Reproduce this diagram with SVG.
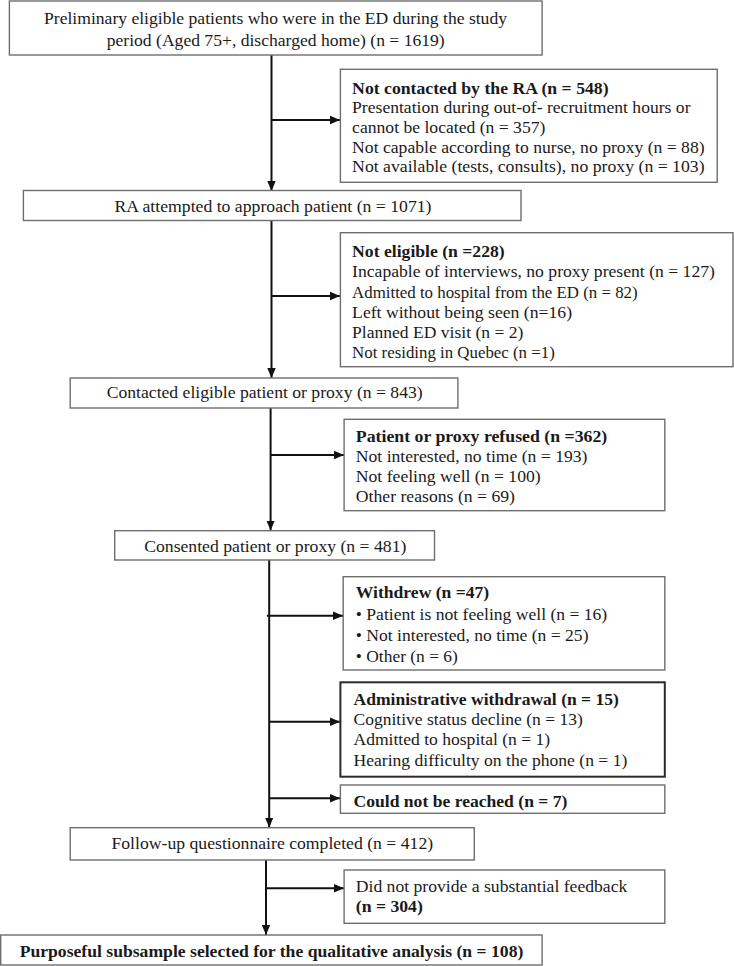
<svg xmlns="http://www.w3.org/2000/svg" width="734" height="966" viewBox="0 0 734 966">
<defs>
<marker id="ah" markerUnits="userSpaceOnUse" markerWidth="10" markerHeight="10" viewBox="0 0 10 10" refX="10" refY="5" orient="auto">
<path d="M0,0.8 L10,5 L0,9.2 Z" fill="#111"/>
</marker>
<style>
.box{fill:#fff;stroke:#6e6e6e;stroke-width:1.4}
.dark{fill:#fff;stroke:#2a2a2a;stroke-width:2}
.t{font-family:"Liberation Serif","Times New Roman",serif;font-size:17.5px;fill:#1a1a1a}
.b{font-weight:bold}
.c{text-anchor:middle}
.ln{stroke:#111;stroke-width:2;fill:none}
.ar{stroke:#111;stroke-width:2;fill:none;marker-end:url(#ah)}
</style>
</defs>
<rect width="734" height="966" fill="#fff"/>

<g id="connectors">
<line class="ar" x1="271.5" y1="55" x2="271.5" y2="191"/>
<line class="ar" x1="271.5" y1="120" x2="340" y2="120"/>
<line class="ar" x1="271.5" y1="220.5" x2="271.5" y2="378"/>
<line class="ar" x1="271.5" y1="296" x2="340" y2="296"/>
<line class="ar" x1="270.6" y1="408" x2="270.6" y2="530.5"/>
<line class="ar" x1="270.6" y1="455" x2="344" y2="455"/>
<line class="ar" x1="269.2" y1="560" x2="269.2" y2="827.5"/>
<line class="ar" x1="266.9" y1="615.7" x2="343" y2="615.7"/>
<line class="ar" x1="269.2" y1="721.7" x2="340" y2="721.7"/>
<line class="ar" x1="269.2" y1="798.3" x2="340" y2="798.3"/>
<line class="ar" x1="266" y1="860" x2="266" y2="935"/>
<line class="ar" x1="266" y1="888.3" x2="344" y2="888.3"/>
</g>

<g id="n1">
<rect class="box" x="9.4" y="1" width="532.7" height="54"/>
<text class="t c" x="275.5" y="24" textLength="463" lengthAdjust="spacingAndGlyphs">Preliminary eligible patients who were in the ED during the study</text>
<text class="t c" x="275.7" y="46" textLength="338" lengthAdjust="spacingAndGlyphs">period (Aged 75+, discharged home) (n = 1619)</text>
</g>

<g id="x1">
<rect class="box" x="340.4" y="69.3" width="376.8" height="113"/>
<text class="t b" x="352.1" y="94" textLength="256.5" lengthAdjust="spacingAndGlyphs">Not contacted by the RA (n = 548)</text>
<text class="t" x="352.1" y="113.3" textLength="338.4" lengthAdjust="spacingAndGlyphs">Presentation during out-of- recruitment hours or</text>
<text class="t" x="352.1" y="132.7" textLength="193.3" lengthAdjust="spacingAndGlyphs">cannot be located (n = 357)</text>
<text class="t" x="352.1" y="152.7" textLength="352.5" lengthAdjust="spacingAndGlyphs">Not capable according to nurse, no proxy (n = 88)</text>
<text class="t" x="352.1" y="172.3" textLength="352.5" lengthAdjust="spacingAndGlyphs">Not available (tests, consults), no proxy (n = 103)</text>
</g>

<g id="n2">
<rect class="box" x="23.4" y="190.5" width="497.6" height="30"/>
<text class="t c" x="273" y="211.7" textLength="317" lengthAdjust="spacingAndGlyphs">RA attempted to approach patient (n = 1071)</text>
</g>

<g id="x2">
<rect class="box" x="340.4" y="232.7" width="392.6" height="134"/>
<text class="t b" x="352.1" y="256.7" textLength="152.6" lengthAdjust="spacingAndGlyphs">Not eligible (n =228)</text>
<text class="t" x="352.1" y="277.3" textLength="362.8" lengthAdjust="spacingAndGlyphs">Incapable of interviews, no proxy present (n = 127)</text>
<text class="t" x="352.1" y="298.3" textLength="285.5" lengthAdjust="spacingAndGlyphs">Admitted to hospital from the ED (n = 82)</text>
<text class="t" x="352.1" y="318.3" textLength="220" lengthAdjust="spacingAndGlyphs">Left without being seen (n=16)</text>
<text class="t" x="352.1" y="338.3" textLength="171.3" lengthAdjust="spacingAndGlyphs">Planned ED visit (n = 2)</text>
<text class="t" x="352.1" y="358.3" textLength="202.7" lengthAdjust="spacingAndGlyphs">Not residing in Quebec (n =1)</text>
</g>

<g id="n3">
<rect class="box" x="70.2" y="378" width="387.7" height="30"/>
<text class="t c" x="264.7" y="398.3" textLength="316" lengthAdjust="spacingAndGlyphs">Contacted eligible patient or proxy (n = 843)</text>
</g>

<g id="x3">
<rect class="box" x="344.1" y="419.3" width="320.7" height="91.4"/>
<text class="t b" x="355.8" y="441.7" textLength="251.4" lengthAdjust="spacingAndGlyphs">Patient or proxy refused (n =362)</text>
<text class="t" x="355.8" y="461.7" textLength="231.7" lengthAdjust="spacingAndGlyphs">Not interested, no time (n = 193)</text>
<text class="t" x="355.8" y="481.7" textLength="184.9" lengthAdjust="spacingAndGlyphs">Not feeling well (n = 100)</text>
<text class="t" x="355.8" y="501.7" textLength="159.2" lengthAdjust="spacingAndGlyphs">Other reasons (n = 69)</text>
</g>

<g id="n4">
<rect class="box" x="114.7" y="530.7" width="319.8" height="29.3"/>
<text class="t c" x="275.3" y="551.7" textLength="262.2" lengthAdjust="spacingAndGlyphs">Consented patient or proxy (n = 481)</text>
</g>

<g id="x4">
<rect class="box" x="343.2" y="576.7" width="321.6" height="93.3"/>
<text class="t b" x="355.8" y="598.3" textLength="133.4" lengthAdjust="spacingAndGlyphs">Withdrew (n =47)</text>
<text class="t" x="355.8" y="620" textLength="251.4" lengthAdjust="spacingAndGlyphs">• Patient is not feeling well (n = 16)</text>
<text class="t" x="355.8" y="641" textLength="232.7" lengthAdjust="spacingAndGlyphs">• Not interested, no time (n = 25)</text>
<text class="t" x="355.8" y="662.3" textLength="102.1" lengthAdjust="spacingAndGlyphs">• Other (n = 6)</text>
</g>

<g id="x5">
<rect class="dark" x="340.4" y="682.3" width="324.4" height="94.4"/>
<text class="t b" x="353.5" y="705" textLength="265.4" lengthAdjust="spacingAndGlyphs">Administrative withdrawal (n = 15)</text>
<text class="t" x="353.5" y="725" textLength="229.4" lengthAdjust="spacingAndGlyphs">Cognitive status decline (n = 13)</text>
<text class="t" x="353.5" y="745" textLength="196.6" lengthAdjust="spacingAndGlyphs">Admitted to hospital (n = 1)</text>
<text class="t" x="353.5" y="765.7" textLength="273.8" lengthAdjust="spacingAndGlyphs">Hearing difficulty on the phone (n = 1)</text>
</g>

<g id="x6">
<rect class="box" x="340.4" y="785" width="324.4" height="28.3"/>
<text class="t b" x="353.5" y="806.7" textLength="213.9" lengthAdjust="spacingAndGlyphs">Could not be reached (n = 7)</text>
</g>

<g id="n5">
<rect class="box" x="70.2" y="827.7" width="404.1" height="32.3"/>
<text class="t c" x="272.3" y="849.3" textLength="321.7" lengthAdjust="spacingAndGlyphs">Follow-up questionnaire completed (n = 412)</text>
</g>

<g id="x7">
<rect class="box" x="344.1" y="870" width="320.7" height="53.3"/>
<text class="t" x="355.8" y="891.7" textLength="271.5" lengthAdjust="spacingAndGlyphs">Did not provide a substantial feedback</text>
<text class="t b" x="355.8" y="911.7" textLength="67" lengthAdjust="spacingAndGlyphs">(n = 304)</text>
</g>

<g id="n6">
<rect class="box" x="0.7" y="935" width="541.4" height="30"/>
<text class="t b c" x="271.5" y="957.3" textLength="503.7" lengthAdjust="spacingAndGlyphs">Purposeful subsample selected for the qualitative analysis (n = 108)</text>
</g>
</svg>
